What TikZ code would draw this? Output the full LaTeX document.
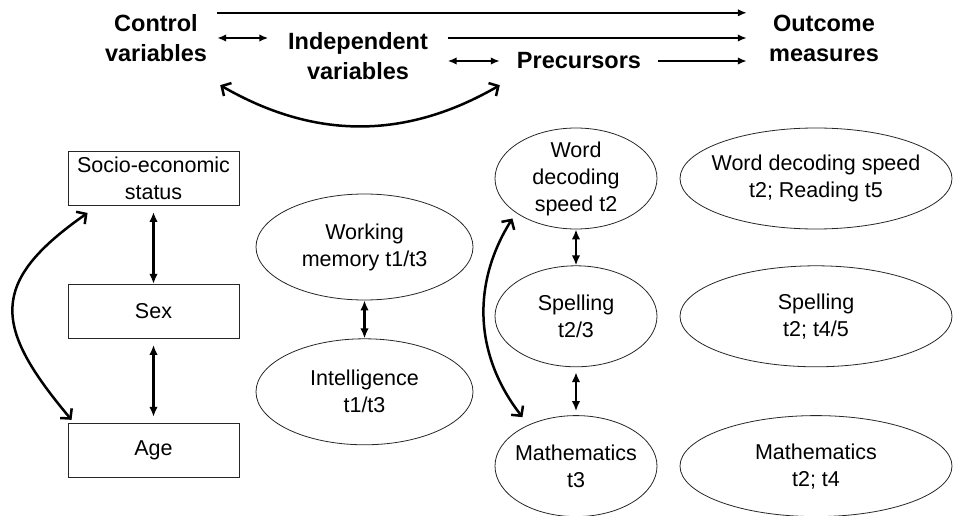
\documentclass[tikz,border=0pt]{standalone}
\usepackage{fontspec}
\setmainfont{Liberation Sans}
\usetikzlibrary{arrows.meta,positioning,shapes.geometric}

\begin{document}
\begin{tikzpicture}[
      x=1pt, y=1pt,
      >={Latex[length=9pt,width=7.5pt]},
      every node/.style = {align=center, font=\fontsize{21.5}{27}\selectfont},
      title/.style      = {font=\fontsize{23.5}{30}\selectfont\bfseries, inner sep=0pt},
      var/.style        = {draw=black!85, line width=0.9pt, minimum width=171pt, minimum height=54pt},
      oval/.style       = {draw=black!85, line width=0.8pt, ellipse, inner sep=-12pt},
      ability/.style    = {oval, minimum width=217pt, minimum height=106pt},
      precursor/.style  = {oval, minimum width=162pt, minimum height=101pt},
      outcome/.style    = {oval, minimum width=272pt, minimum height=101pt},
      link/.style       = {line width=2.5pt, ->},
      twin/.style       = {line width=2.5pt, <->},
      both/.style       = {line width=2.6pt, {Latex[length=10pt,width=8.5pt]}-{Latex[length=10pt,width=8.5pt]}},
      bow/.style        = {line width=2.5pt, {Straight Barb[length=7pt,width=15pt]}-{Straight Barb[length=7pt,width=15pt]}}
    ]
    \useasboundingbox (0,0) rectangle (953,515);

    % model overview
    \node (ctrl)  [title, minimum width=122pt, minimum height=50pt] at (156,477) {Control\\variables};
    \node (indep) [title, minimum width=179pt]                      at (358,459) {Independent\\variables};
    \node (prec)  [title, minimum width=158pt, minimum height=30pt] at (579,454) {Precursors};
    \node (outc)  [title, minimum width=154pt, minimum height=50pt] at (824,477) {Outcome\\measures};

    \draw[link] (ctrl.north east)        -- (outc.north west);
    \draw[twin] (ctrl.east)              -- (ctrl.east -| indep.west);
    \draw[link] (indep.east |- outc.west) -- (outc.west);
    \draw[twin] (indep.east |- prec.west) -- (prec.west);
    \draw[link] (prec.east)              -- (prec.east -| outc.west);
    \draw[bow]  ([xshift=3pt,yshift=-22pt]ctrl.south east) to[bend right=30] ([yshift=-9pt]prec.south west);

    % control variables
    \node (ses) [var]                  at (153.5,336.5) {Socio-economic\\status};
    \node (sex) [var, below=78pt of ses]               {Sex};
    \node (age) [var, below=84pt of sex]               {Age};

    % independent variables
    \node (wm)    [ability]                   at (364.5,268) {Working\\memory t1/t3};
    \node (intel) [ability, below=38pt of wm]                {Intelligence\\t1/t3};

    % precursors
    \node (wdsp) [precursor]                    at (576,336.5) {Word\\decoding\\speed t2};
    \node (spel) [precursor, below=36pt of wdsp]               {Spelling\\t2/3};
    \node (math) [precursor, below=48pt of spel]               {Mathematics\\t3};

    % outcome measures
    \node (wdso)  [outcome] at (816,336.5)   {Word decoding speed\\t2; Reading t5};
    \node (spelo) [outcome] at (wdso |- spel) {Spelling\\t2; t4/5};
    \node (matho) [outcome] at (wdso |- math) {Mathematics\\t2; t4};

    \draw[both, shorten <=6pt]                 (ses)   -- (sex);
    \draw[both, shorten <=6pt, shorten >=6pt]  (sex)   -- (age);
    \draw[both]                                (wm)    -- (intel);
    \draw[both]                                (wdsp)  -- (spel);
    \draw[both, shorten <=5pt, shorten >=4pt]  (spel)  -- (math);
    \draw[bow] ([xshift=20pt,yshift=-7pt]ses.south west) to[out=215, in=130, looseness=1.5] ([xshift=4pt,yshift=3pt]age.north west);
    \draw[bow] ([xshift=-6pt,yshift=-4pt]wdsp.south west) to[bend right=35] ([xshift=4pt,yshift=13pt]math.north west);

  \end{tikzpicture}
\end{document}
